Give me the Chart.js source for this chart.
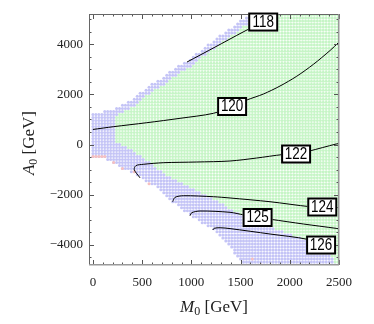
<!DOCTYPE html>
<html><head><meta charset="utf-8">
<script src="https://cdn.jsdelivr.net/npm/chart.js@4/dist/chart.umd.min.js"></script>
<style>html,body{margin:0;padding:0;background:#fff;}#wrap{width:374px;height:324px;}</style>
</head><body><div id="wrap"><canvas id="c" width="374" height="324"></canvas></div>
<script>
// ---- axis ticks ----
const xTickValues = [0, 500, 1000, 1500, 2000, 2500];
const yTickValues = [-4000, -2000, 0, 2000, 4000];
const xMinorStep = 100, yMinorStep = 500;

// ---- scan grid (M0, A0 in GeV) ----
const gridM0Start = 0, gridM0End = 2520, gridM0Step = 30;
const gridA0Start = -4800, gridA0End = 5200, gridA0Step = 120;

// upper edge of the scanned region
const topEdgeM0 = [0, 100, 200, 300, 400, 500, 600, 700, 800, 900, 1000, 1100, 1200, 1300, 1400, 1500, 1600, 1700, 1800, 1900, 2600];
const topEdgeA0 = [1250, 1300, 1400, 1600, 1800, 2100, 2450, 2650, 2950, 3220, 3450, 3780, 4050, 4380, 4620, 4950, 5200, 5300, 5400, 6000, 9000];
// lower edge of the scanned region
const bottomEdgeM0 = [0, 120, 150, 200, 300, 400, 500, 600, 700, 800, 900, 1000, 1100, 1200, 1300, 1400, 1500, 1550, 2600];
const bottomEdgeA0 = [-480, -480, -600, -720, -960, -1100, -1350, -1600, -1850, -2250, -2550, -2850, -3100, -3350, -3650, -4100, -4650, -4900, -9000];
// lower green/blue border (blue below)
const greenLowM0 = [240, 300, 400, 500, 600, 700, 800, 900, 1000, 1100, 1200, 1300, 1400, 1500, 1600, 1700, 1800, 1900, 2000, 2100, 2200, 2300, 2400, 2450, 2500, 2600];
const greenLowA0 = [100, -20, -230, -500, -800, -1080, -1330, -1550, -1760, -1950, -2150, -2350, -2580, -2800, -2980, -3130, -3300, -3430, -3550, -3680, -3830, -4000, -4250, -4600, -5000, -9000];
const blueLeftM0 = 240;     // columns left of this are blue
const blueTopBand = 320;    // depth of blue band under the upper edge

// pink points
const pinkM0 = [0, 30, 60, 90, 120, 210, 300, 420, 570, 1620, 1710];
const pinkA0 = [-480, -480, -480, -480, -480, -720, -960, -1080, -1560, -4560, -4800];

// ---- contour lines (M0, A0) ----
const contour118 = [[956, 3287], [1240, 3880], [1525, 4482], [1730, 4900], [1800, 5100]];
const contour120 = [[0, 600], [206, 709], [547, 869], [885, 1044], [1224, 1243], [1414, 1514], [1563, 1773], [1732, 2012], [1901, 2331], [2071, 2721], [2240, 3195], [2409, 3745], [2500, 4080]];
const contour122 = [[479, -1329], [420, -1004], [437, -841], [511, -789], [714, -725], [1054, -697], [1392, -657], [1660, -540], [1929, -400], [2064, -378], [2199, -259], [2470, 20], [2500, 40]];
const contour124 = [[810, -2279], [834, -2104], [919, -2040], [1224, -2080], [1393, -2130], [1799, -2279], [2206, -2478], [2330, -2490]];
const contour125 = [[986, -2837], [1004, -2717], [1088, -2649], [1393, -2701], [1536, -2809], [1673, -2908], [1807, -2980], [2138, -3167], [2470, -3339], [2500, -3360]];
const contour126 = [[1217, -3406], [1231, -3339], [1292, -3315], [1393, -3350], [1800, -3566], [2179, -3777], [2318, -4004]];
const contourLabels = ['118', '120', '122', '124', '125', '126'];
const labelM0 = [1730, 1414, 2064, 2330, 1673, 2318];
const labelA0 = [4880, 1514, -378, -2490, -2908, -4004];

function interp(xs, ys, x) {
  if (x <= xs[0]) return ys[0];
  for (let i = 1; i < xs.length; i++) {
    if (x <= xs[i]) { const t = (x - xs[i-1]) / (xs[i] - xs[i-1]); return ys[i-1] + t * (ys[i] - ys[i-1]); }
  }
  return ys[ys.length - 1];
}

const greenPts = [], bluePts = [];
for (let m = gridM0Start; m <= gridM0End; m += gridM0Step) {
  const top = interp(topEdgeM0, topEdgeA0, m);
  const bot = interp(bottomEdgeM0, bottomEdgeA0, m);
  const gl = interp(greenLowM0, greenLowA0, m);
  for (let a = gridA0Start; a <= gridA0End; a += gridA0Step) {
    if (a > top + 1 || a < bot - 1) continue;
    const blue = m < blueLeftM0 || a > top - blueTopBand || a < gl;
    (blue ? bluePts : greenPts).push({x: m, y: a});
  }
}
const pinkPts = pinkM0.map((m, i) => ({x: m, y: pinkA0[i]}));

const toXY = arr => arr.map(([x, y]) => ({x, y}));
const lineDs = c => ({data: toXY(c), showLine: true, pointRadius: 0, borderColor: '#000', borderWidth: 1, tension: 0.3, order: 1, fill: false});

const fmt = v => v < 0 ? '\u2212' + Math.abs(v) : String(v);

const decor = {
  id: 'decor',
  afterDatasetsDraw(chart) {
    const ctx = chart.ctx, a = chart.chartArea, xs = chart.scales.x, ys = chart.scales.y;
    ctx.save();
    // ticks inward
    ctx.strokeStyle = '#555'; ctx.lineWidth = 1;
    ctx.beginPath();
    for (let v = 0; v <= 2500; v += xMinorStep) {
      const px = Math.round(xs.getPixelForValue(v)) + 0.5;
      const len = v % 500 === 0 ? 5 : 2.5;
      ctx.moveTo(px, a.bottom); ctx.lineTo(px, a.bottom - len);
      ctx.moveTo(px, a.top); ctx.lineTo(px, a.top + len);
    }
    for (let v = -4500; v <= 5000; v += yMinorStep) {
      const py = Math.round(ys.getPixelForValue(v)) + 0.5;
      const len = v % 2000 === 0 ? 5 : 2.5;
      ctx.moveTo(a.left, py); ctx.lineTo(a.left + len, py);
      ctx.moveTo(a.right, py); ctx.lineTo(a.right - len, py);
    }
    ctx.stroke();
    // frame
    ctx.strokeStyle = '#666'; ctx.lineWidth = 1;
    ctx.strokeRect(a.left + 0.5, a.top + 0.5, a.right - a.left - 1, a.bottom - a.top - 1);
    ctx.strokeStyle = '#999'; ctx.lineWidth = 1.5;
    ctx.beginPath();
    ctx.moveTo(a.left, a.bottom - 0.25); ctx.lineTo(a.right, a.bottom - 0.25);
    ctx.moveTo(a.right - 0.25, a.top); ctx.lineTo(a.right - 0.25, a.bottom);
    ctx.stroke();
    // contour labels
    contourLabels.forEach((t, i) => {
      const cx = xs.getPixelForValue(labelM0[i]), cy = ys.getPixelForValue(labelA0[i]);
      const w = 30, h = 19;
      ctx.fillStyle = '#fff';
      ctx.fillRect(cx - w/2, cy - h/2, w, h);
      ctx.strokeStyle = '#000'; ctx.lineWidth = 2;
      ctx.strokeRect(cx - w/2 + 1, cy - h/2 + 1, w - 2, h - 2);
      ctx.save();
      ctx.translate(cx, cy + 0.5);
      ctx.scale(0.84, 1);
      ctx.fillStyle = '#000';
      ctx.font = '16px "Liberation Sans", Arial, sans-serif';
      ctx.textAlign = 'center'; ctx.textBaseline = 'middle';
      ctx.fillText(t, 0, 0);
      ctx.restore();
    });
    ctx.restore();
  },
  afterDraw(chart) {
    const ctx = chart.ctx, a = chart.chartArea;
    const big = '17px "Liberation Serif", serif', ital = 'italic 17px "Liberation Serif", serif', sub = '12px "Liberation Serif", serif';
    function drawTitle(letter, cx, cy, rot) {
      ctx.save();
      ctx.translate(cx, cy);
      if (rot) ctx.rotate(-Math.PI / 2);
      ctx.fillStyle = '#222';
      ctx.textBaseline = 'alphabetic'; ctx.textAlign = 'left';
      ctx.font = ital; const w1 = ctx.measureText(letter).width;
      ctx.font = sub; const w2 = ctx.measureText('0').width;
      ctx.font = big; const w3 = ctx.measureText(' [GeV]').width;
      let x = -(w1 + w2 + w3) / 2; const base = 6;
      ctx.font = ital; ctx.fillText(letter, x, base); x += w1;
      ctx.font = sub; ctx.fillText('0', x, base + 3); x += w2;
      ctx.font = big; ctx.fillText(' [GeV]', x, base);
      ctx.restore();
    }
    drawTitle('M', (a.left + a.right) / 2, 306, false);
    drawTitle('A', 28, 143, true);
  }
};

new Chart(document.getElementById('c'), {
  type: 'scatter',
  data: {
    datasets: [
      {data: greenPts, pointRadius: 1.5, pointBackgroundColor: '#c6f5c6', pointBorderWidth: 0, order: 10},
      {data: bluePts, pointRadius: 1.5, pointBackgroundColor: '#c4c4f6', pointBorderWidth: 0, order: 9},
      {data: pinkPts, pointRadius: 1.5, pointBackgroundColor: '#f6c0c0', pointBorderWidth: 0, order: 8},
      lineDs(contour118), lineDs(contour120), lineDs(contour122),
      lineDs(contour124), lineDs(contour125), lineDs(contour126)
    ]
  },
  options: {
    responsive: false, animation: false, events: [],
    layout: {padding: {top: 14, right: 35, left: 0, bottom: 0}},
    plugins: {legend: {display: false}, tooltip: {enabled: false}},
    scales: {
      x: {
        type: 'linear', min: -40, max: 2500,
        afterFit: s => { s.height = 59; },
        afterBuildTicks: s => { s.ticks = xTickValues.map(v => ({value: v})); },
        grid: {display: false, drawTicks: false}, border: {display: false},
        ticks: {padding: 10, color: '#222', autoSkip: false, maxRotation: 0,
                font: {family: '"Liberation Serif", serif', size: 13}, callback: v => fmt(v)}
      },
      y: {
        type: 'linear', min: -4800, max: 5200,
        afterFit: s => { s.width = 89; },
        afterBuildTicks: s => { s.ticks = yTickValues.map(v => ({value: v})); },
        grid: {display: false, drawTicks: false}, border: {display: false},
        ticks: {padding: 6, color: '#222', autoSkip: false,
                font: {family: '"Liberation Serif", serif', size: 13}, callback: v => fmt(v)}
      }
    }
  },
  plugins: [decor]
});
</script></body></html>
